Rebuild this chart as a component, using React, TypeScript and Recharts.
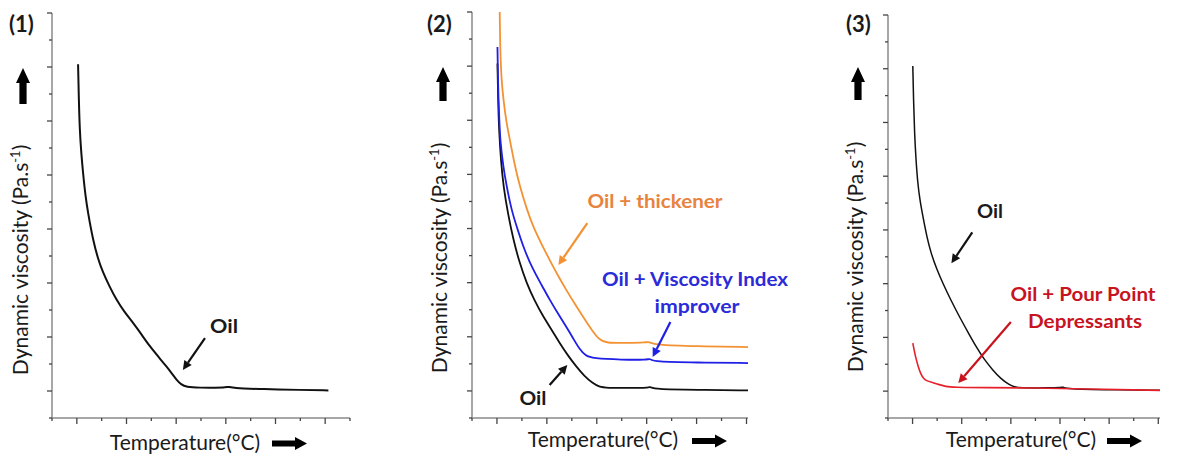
import React from 'react';
import { LineChart, Line, XAxis, YAxis, ReferenceLine } from 'recharts';

// curves, x and y in axis tick units
const oilPanel1 = [
  [1.05, 13.1], [1.08, 11.8], [1.12, 10.6], [1.18, 9.8], [1.25, 9.07], [1.35, 8.2],
  [1.45, 7.6], [1.65, 6.6], [1.85, 5.9], [2.06, 5.37], [2.3, 4.9], [2.59, 4.38],
  [2.9, 3.95], [3.27, 3.52], [3.6, 3.1], [3.94, 2.65], [4.3, 2.25], [4.61, 1.91],
  [4.85, 1.62], [5.01, 1.42], [5.2, 1.24], [5.4, 1.15], [5.95, 1.12], [6.6, 1.12],
  [7.0, 1.13], [7.1, 1.17], [7.25, 1.1], [8.5, 1.07], [10, 1.04], [11.13, 1.02],
];

const thickenerPanel2 = [
  [1.11, 15], [1.13, 13.6], [1.18, 12.5], [1.26, 11.75], [1.38, 10.9], [1.52, 10.27],
  [1.72, 9.3], [1.92, 8.55], [2.2, 7.7], [2.45, 7.07], [2.8, 6.4], [3.11, 5.84],
  [3.45, 5.25], [3.77, 4.74], [4.1, 4.25], [4.44, 3.75], [4.8, 3.25], [5.1, 2.89],
  [5.36, 2.77], [6.2, 2.77], [7.0, 2.79], [7.1, 2.82], [7.3, 2.7], [9, 2.65], [11.06, 2.62],
];

const viPanel2 = [
  [1.02, 13.71], [1.04, 12.6], [1.06, 11.75], [1.1, 10.9], [1.13, 10.27], [1.25, 9.3],
  [1.39, 8.55], [1.58, 7.7], [1.79, 7.07], [2.1, 6.2], [2.45, 5.47], [2.8, 4.9],
  [3.11, 4.37], [3.45, 3.85], [3.77, 3.38], [4.05, 2.95], [4.3, 2.55], [4.55, 2.3],
  [4.83, 2.2], [6, 2.15], [7.05, 2.15], [7.12, 2.2], [7.3, 2.07], [9, 2.05], [11.06, 2.03],
];

const oilPanel2 = [
  [1.02, 13.1], [1.05, 11.6], [1.09, 10.52], [1.16, 9.5], [1.26, 8.55], [1.45, 7.5],
  [1.66, 6.58], [1.9, 5.75], [2.19, 4.98], [2.5, 4.35], [2.85, 3.75], [3.2, 3.25],
  [3.51, 2.77], [3.85, 2.3], [4.17, 1.91], [4.5, 1.55], [4.83, 1.29], [5.1, 1.15],
  [5.36, 1.11], [6.5, 1.11], [7.05, 1.12], [7.12, 1.16], [7.3, 1.06], [9, 1.04], [11.06, 1.02],
];

const oilPanel3 = [
  [1.01, 13.1], [1.04, 11.8], [1.08, 10.6], [1.14, 9.6], [1.21, 8.74], [1.3, 8.1],
  [1.42, 7.5], [1.58, 6.75], [1.75, 6.13], [2.0, 5.5], [2.23, 5.02], [2.55, 4.4],
  [2.9, 3.78], [3.25, 3.2], [3.58, 2.66], [3.9, 2.2], [4.25, 1.8], [4.6, 1.45],
  [4.93, 1.24], [5.15, 1.15], [5.33, 1.12], [6.5, 1.12], [7.05, 1.13], [7.12, 1.16],
  [7.25, 1.08], [9, 1.05], [11.07, 1.03],
];

const ppdPanel3 = [
  [1.01, 2.79], [1.08, 2.45], [1.15, 2.17], [1.25, 1.85], [1.35, 1.61], [1.45, 1.47],
  [1.55, 1.39], [1.8, 1.32], [2.09, 1.24], [2.35, 1.17], [2.63, 1.14], [4, 1.13],
  [5.87, 1.12], [8, 1.08], [11.07, 1.03],
];

const xTicks12 = [0, 1, 2, 3, 4, 5, 6, 7, 8, 9, 10, 11, 12];
const xTicks11 = [0, 1, 2, 3, 4, 5, 6, 7, 8, 9, 10, 11];
const yTicks = [0, 1, 2, 3, 4, 5, 6, 7, 8, 9, 10, 11, 12, 13, 14, 15];

const FONT = 'Lato, "Open Sans", sans-serif';
const ORANGE = '#F39233';
const ORANGE_TXT = '#E8833E';
const BLUE = '#1F1FE6';
const BLUE_TXT = '#2B2BD9';
const RED = '#E6202B';
const RED_TXT = '#C8141F';

const toPts = (a: number[][]) => a.map(([x, y]) => ({ x, y }));

const XTick = (p: any) => {
  const major = p.payload.value % 2 === 1;
  return <line x1={p.x} x2={p.x} y1={p.y} y2={p.y + (major ? 6 : 3)} stroke="#444" strokeWidth={1.3} />;
};

const YTick = (p: any) => {
  const major = p.payload.value % 2 === 1;
  return <line x1={p.x} x2={p.x - (major ? 5 : 3)} y1={p.y} y2={p.y} stroke="#444" strokeWidth={1.3} />;
};

const ArrowShape = (color: string) => (p: any) => {
  const { x1, y1, x2, y2 } = p;
  const ang = Math.atan2(y2 - y1, x2 - x1);
  const head = 9;
  const half = 4.5;
  const bx = x2 - head * Math.cos(ang);
  const by = y2 - head * Math.sin(ang);
  const nx = -Math.sin(ang);
  const ny = Math.cos(ang);
  return (
    <g>
      <line x1={x1} y1={y1} x2={bx} y2={by} stroke={color} strokeWidth={2.2} />
      <polygon
        points={`${x2},${y2} ${bx + nx * half},${by + ny * half} ${bx - nx * half},${by - ny * half}`}
        fill={color}
      />
    </g>
  );
};

type Series = { name: string; data: number[][]; color: string; width: number };
type Arrow = { from: number[]; to: number[]; color: string };

function Panel({ left, width, margin, xTicks, series, arrows }: {
  left: number; width: number; margin: any; xTicks: number[]; series: Series[]; arrows: Arrow[];
}) {
  const xMax = xTicks[xTicks.length - 1];
  return (
    <div style={{ position: 'absolute', left, top: 0 }}>
      <LineChart width={width} height={455} margin={margin}>
        <XAxis
          type="number"
          dataKey="x"
          domain={[0, xMax]}
          ticks={xTicks}
          interval={0}
          height={1}
          tickSize={0}
          tickMargin={0}
          tickLine={false}
          tick={XTick}
          axisLine={{ stroke: '#8a8a8a', strokeWidth: 1.5 }}
        />
        <YAxis
          type="number"
          dataKey="y"
          domain={[0, 15]}
          ticks={yTicks}
          interval={0}
          width={1}
          tickSize={0}
          tickMargin={0}
          tickLine={false}
          tick={YTick}
          axisLine={{ stroke: '#8a8a8a', strokeWidth: 1.5 }}
        />
        {series.map((s) => (
          <Line
            key={s.name}
            name={s.name}
            data={toPts(s.data)}
            dataKey="y"
            type="basis"
            stroke={s.color}
            strokeWidth={s.width}
            dot={false}
            activeDot={false}
            isAnimationActive={false}
          />
        ))}
        {arrows.map((a, i) => (
          <ReferenceLine
            key={i}
            segment={[{ x: a.from[0], y: a.from[1] }, { x: a.to[0], y: a.to[1] }]}
            ifOverflow="visible"
            shape={ArrowShape(a.color)}
          />
        ))}
      </LineChart>
    </div>
  );
}

const UpArrow = ({ cx, top, bottom }: { cx: number; top: number; bottom: number }) => (
  <polygon
    points={`${cx},${top} ${cx + 7},${top + 15} ${cx + 3.6},${top + 15} ${cx + 3.6},${bottom} ${cx - 3.6},${bottom} ${cx - 3.6},${top + 15} ${cx - 7},${top + 15}`}
    fill="#000"
  />
);

const RightArrow = ({ x1, x2, cy }: { x1: number; x2: number; cy: number }) => (
  <polygon
    points={`${x1},${cy - 3} ${x2 - 12},${cy - 3} ${x2 - 12},${cy - 6.5} ${x2},${cy} ${x2 - 12},${cy + 6.5} ${x2 - 12},${cy + 3} ${x1},${cy + 3}`}
    fill="#000"
  />
);

const YLabel = ({ x, cy }: { x: number; cy: number }) => (
  <text transform={`translate(${x},${cy}) rotate(-90)`} textAnchor="middle" fontSize={21} fill="#1a1a1a">
    Dynamic viscosity (Pa.s<tspan dy={-8} fontSize={13}>-1</tspan><tspan dy={8}>)</tspan>
  </text>
);

const Note = ({ x, y, w, color, children }: any) => (
  <text x={x} y={y} textAnchor="middle" fontSize={19} fontWeight="bold" fill={color} textLength={w} lengthAdjust="spacingAndGlyphs">
    {children}
  </text>
);

export default function App() {
  return (
    <div style={{ position: 'absolute', left: 0, top: 0, width: 1179, height: 455, background: '#fff', fontFamily: FONT }}>
      <Panel
        left={0}
        width={380}
        margin={{ top: 13, right: 30, bottom: 36, left: 51 }}
        xTicks={xTicks12}
        series={[{ name: 'Oil', data: oilPanel1, color: '#111', width: 2 }]}
        arrows={[{ from: [6.16, 2.96], to: [5.27, 1.78], color: '#111' }]}
      />
      <Panel
        left={400}
        width={380}
        margin={{ top: 12, right: 32, bottom: 36, left: 71 }}
        xTicks={xTicks11}
        series={[
          { name: 'Oil', data: oilPanel2, color: '#111', width: 1.8 },
          { name: 'Oil + Viscosity Index improver', data: viPanel2, color: BLUE, width: 1.8 },
          { name: 'Oil + thickener', data: thickenerPanel2, color: ORANGE, width: 1.8 },
        ]}
        arrows={[
          { from: [4.62, 7.2], to: [3.46, 5.65], color: ORANGE },
          { from: [7.95, 3.55], to: [7.24, 2.25], color: BLUE },
          { from: [3.11, 1.22], to: [3.82, 1.96], color: '#111' },
        ]}
      />
      <Panel
        left={800}
        width={379}
        margin={{ top: 15, right: 19, bottom: 36, left: 87 }}
        xTicks={xTicks11}
        series={[
          { name: 'Oil', data: oilPanel3, color: '#111', width: 1.5 },
          { name: 'Oil + Pour Point Depressants', data: ppdPanel3, color: RED, width: 1.6 },
        ]}
        arrows={[
          { from: [3.43, 6.91], to: [2.58, 5.76], color: '#111' },
          { from: [5.0, 3.57], to: [2.86, 1.3], color: RED_TXT },
        ]}
      />
      <svg width={1179} height={455} style={{ position: 'absolute', left: 0, top: 0, pointerEvents: 'none' }} fontFamily={FONT}>
        <text x={9} y={32} fontSize={22} fontWeight="bold" fill="#1a1a1a">(1)</text>
        <text x={427} y={32} fontSize={22} fontWeight="bold" fill="#1a1a1a">(2)</text>
        <text x={846} y={32} fontSize={22} fontWeight="bold" fill="#1a1a1a">(3)</text>

        <UpArrow cx={23} top={68} bottom={104} />
        <UpArrow cx={443} top={67} bottom={101} />
        <UpArrow cx={858} top={67} bottom={100} />

        <YLabel x={28} cy={260} />
        <YLabel x={447} cy={258} />
        <YLabel x={863} cy={257} />

        <text x={185} y={450} textAnchor="middle" fontSize={21} fill="#1a1a1a">Temperature(°C)</text>
        <text x={603} y={447} textAnchor="middle" fontSize={21} fill="#1a1a1a">Temperature(°C)</text>
        <text x={1021} y={447} textAnchor="middle" fontSize={21} fill="#1a1a1a">Temperature(°C)</text>
        <RightArrow x1={272} x2={307} cy={443.5} />
        <RightArrow x1={692} x2={727} cy={441} />
        <RightArrow x1={1107} x2={1142} cy={441} />

        <Note x={224} y={333} w={28} color="#1a1a1a">Oil</Note>
        <Note x={655} y={208} w={135} color={ORANGE_TXT}>Oil + thickener</Note>
        <Note x={695} y={286} w={186} color={BLUE_TXT}>Oil + Viscosity Index</Note>
        <Note x={697} y={313} w={85} color={BLUE_TXT}>improver</Note>
        <Note x={533} y={405} w={27} color="#1a1a1a">Oil</Note>
        <Note x={990} y={218} w={26} color="#1a1a1a">Oil</Note>
        <Note x={1083} y={301} w={145} color={RED_TXT}>Oil + Pour Point</Note>
        <Note x={1085} y={328} w={114} color={RED_TXT}>Depressants</Note>
      </svg>
    </div>
  );
}
